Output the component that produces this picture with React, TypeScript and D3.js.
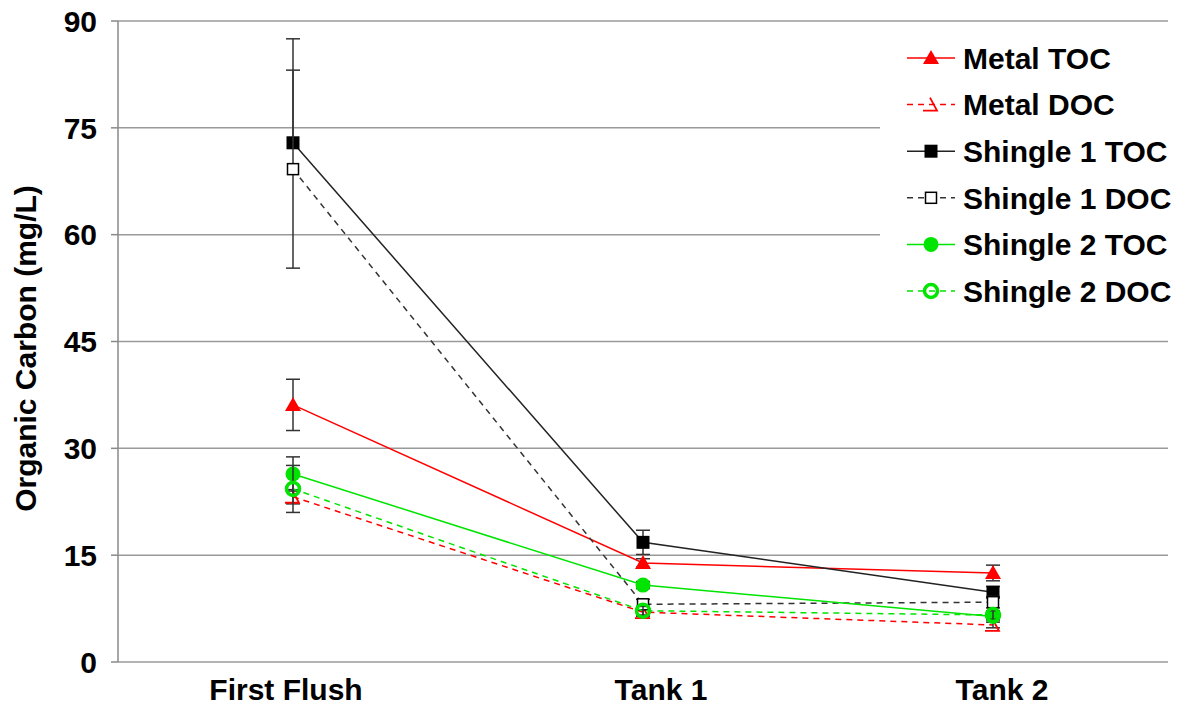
import React from 'react';
import * as d3 from 'd3';

const categories = ['First Flush', 'Tank 1', 'Tank 2'];
const yTicks = [0, 15, 30, 45, 60, 75, 90];

const metalToc = [36.1, 13.9, 12.5];
const metalTocErr = [3.6, 0.6, 1.1];
const metalDoc = [23.2, 7.0, 5.2];
const metalDocErr = [1.0, 0.6, 0.4];
const shingle1Toc = [72.9, 16.8, 9.8];
const shingle1TocErrUp = [14.6, 1.7, 0.8];
const shingle1TocErrDown = [0, 1.7, 0.8];
const shingle1Doc = [69.2, 8.1, 8.4];
const shingle1DocErr = [13.9, 0.7, 0.8];
const shingle2Toc = [26.4, 10.8, 6.4];
const shingle2TocErr = [2.4, 0.5, 0.5];
const shingle2Doc = [24.3, 7.2, 6.6];
const shingle2DocErr = [3.3, 0.6, 0.6];

const RED = '#ff0000';
const GREEN = '#00e400';
const FONT = '"Liberation Sans", Arial, sans-serif';

// small nudges so the category labels sit where Excel put them
const labelShift = [-7, 18, 9];

type Marker = 'triFill' | 'triOpen' | 'sqFill' | 'sqOpen' | 'cirFill' | 'cirOpen';

const series = [
  { name: 'Metal TOC', values: metalToc, up: metalTocErr, down: metalTocErr, color: RED, dash: null, marker: 'triFill' as Marker },
  { name: 'Metal DOC', values: metalDoc, up: metalDocErr, down: metalDocErr, color: RED, dash: '6,5', marker: 'triOpen' as Marker },
  { name: 'Shingle 1 TOC', values: shingle1Toc, up: shingle1TocErrUp, down: shingle1TocErrDown, color: '#222', dash: null, marker: 'sqFill' as Marker },
  { name: 'Shingle 1 DOC', values: shingle1Doc, up: shingle1DocErr, down: shingle1DocErr, color: '#333', dash: '6,5', marker: 'sqOpen' as Marker },
  { name: 'Shingle 2 TOC', values: shingle2Toc, up: shingle2TocErr, down: shingle2TocErr, color: GREEN, dash: null, marker: 'cirFill' as Marker },
  { name: 'Shingle 2 DOC', values: shingle2Doc, up: shingle2DocErr, down: shingle2DocErr, color: GREEN, dash: '6,5', marker: 'cirOpen' as Marker },
];

const MarkerShape = ({ type, x, y, color }: { type: Marker; x: number; y: number; color: string }) => {
  switch (type) {
    case 'triFill':
      return <path d={`M${x},${y - 8} L${x + 8},${y + 6} L${x - 8},${y + 6} Z`} fill={color} />;
    case 'triOpen':
      return <path d={`M${x - 1},${y - 7} L${x + 6},${y + 6} L${x - 8},${y + 6}`} fill="none" stroke={color} strokeWidth={1.8} />;
    case 'sqFill':
      return <rect x={x - 6.5} y={y - 6.5} width={13} height={13} fill="#000" />;
    case 'sqOpen':
      return <rect x={x - 5.5} y={y - 5.5} width={11} height={11} fill="#fff" stroke="#000" strokeWidth={1.5} />;
    case 'cirFill':
      return <circle cx={x} cy={y} r={7.5} fill={color} />;
    case 'cirOpen':
      return <circle cx={x} cy={y} r={6.5} fill="none" stroke={color} strokeWidth={3.5} />;
  }
};

export default function App() {
  const width = 1182;
  const height = 706;
  const left = 118;
  const right = 1168;
  const top = 21;
  const bottom = 662;

  const x = d3.scalePoint<string>().domain(categories).range([left, right]).padding(0.5);
  const y = d3.scaleLinear().domain([0, 90]).range([bottom, top]);
  const line = d3.line<number>().x((_, i) => x(categories[i]) as number).y((d) => y(d));

  const legendRows = series.map((s, i) => ({ ...s, cy: 58 + i * 46.6 }));

  return (
    <svg width={width} height={height} style={{ position: 'absolute', left: 0, top: 0, background: '#fff' }}>
      {/* gridlines */}
      {yTicks.map((t) => (
        <line key={t} x1={left} x2={right} y1={y(t)} y2={y(t)} stroke="#9a9a9a" strokeWidth={1.5} />
      ))}
      {/* y axis */}
      <line x1={left} x2={left} y1={top} y2={bottom} stroke="#8a8a8a" strokeWidth={1.5} />
      {yTicks.map((t) => (
        <g key={'t' + t}>
          <line x1={left - 7} x2={left} y1={y(t)} y2={y(t)} stroke="#8a8a8a" strokeWidth={1.5} />
          <text x={97} y={y(t)} dy="0.36em" textAnchor="end" fontFamily={FONT} fontWeight="bold" fontSize={30}>
            {t}
          </text>
        </g>
      ))}
      <text
        transform={`translate(36,${(top + bottom) / 2 + 7}) rotate(-90)`}
        textAnchor="middle"
        fontFamily={FONT}
        fontWeight="bold"
        fontSize={30}
      >
        Organic Carbon (mg/L)
      </text>
      {categories.map((c, i) => (
        <text key={c} x={(x(c) as number) + labelShift[i]} y={700} textAnchor="middle" fontFamily={FONT} fontWeight="bold" fontSize={30}>
          {c}
        </text>
      ))}

      {/* legend box covers gridlines */}
      <rect x={880} y={30} width={300} height={288} fill="#fff" />

      {series.map((s) => (
        <g key={s.name}>
          <path d={line(s.values) as string} fill="none" stroke={s.color} strokeWidth={1.5} strokeDasharray={s.dash ?? undefined} />
          {s.values.map((v, i) => {
            const cx = x(categories[i]) as number;
            const hi = y(v + s.up[i]);
            const lo = y(v - s.down[i]);
            return (
              <g key={i} stroke="#333" strokeWidth={1.5}>
                <line x1={cx} x2={cx} y1={hi} y2={lo} />
                {s.up[i] > 0 && <line x1={cx - 7} x2={cx + 7} y1={hi} y2={hi} />}
                {s.down[i] > 0 && <line x1={cx - 7} x2={cx + 7} y1={lo} y2={lo} />}
              </g>
            );
          })}
          {s.values.map((v, i) => (
            <MarkerShape key={'m' + i} type={s.marker} x={x(categories[i]) as number} y={y(v)} color={s.color} />
          ))}
        </g>
      ))}

      {/* legend */}
      {legendRows.map((s) => (
        <g key={'lg' + s.name}>
          <line x1={907} x2={955} y1={s.cy} y2={s.cy} stroke={s.color} strokeWidth={1.5} strokeDasharray={s.dash ? '6,5' : undefined} />
          <MarkerShape type={s.marker} x={931} y={s.cy} color={s.color} />
          <text x={963} y={s.cy} dy="0.36em" fontFamily={FONT} fontWeight="bold" fontSize={30}>
            {s.name}
          </text>
        </g>
      ))}
    </svg>
  );
}
